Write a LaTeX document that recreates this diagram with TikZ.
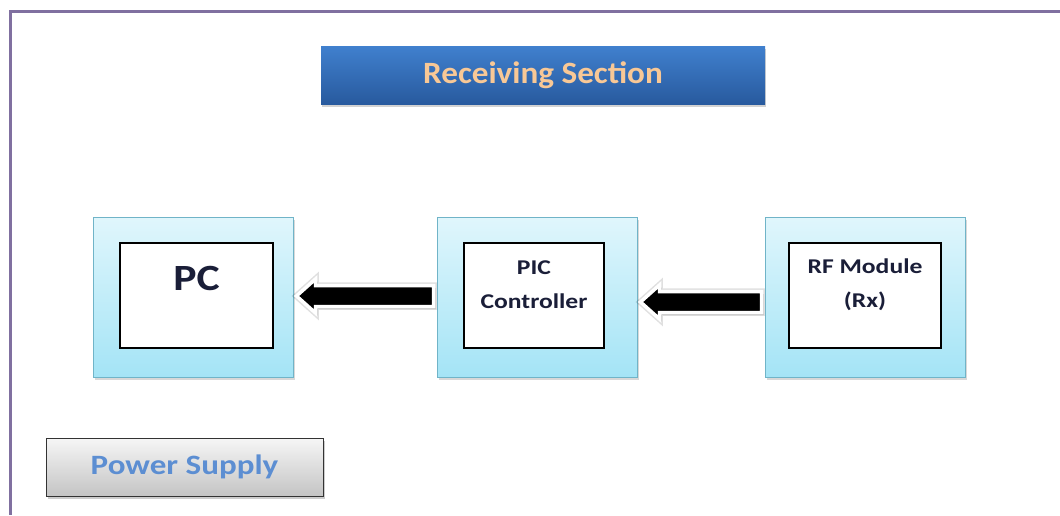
\documentclass[tikz,border=0pt]{standalone}
\usepackage{fontspec}
\setmainfont{Carlito}
\newfontfamily\stretchfont[FakeStretch=1.18]{Carlito}
\newfontfamily\blockfont[FakeStretch=1.22]{Carlito}
\newfontfamily\titlefont[FakeStretch=1.07]{Carlito}
\usetikzlibrary{calc,shadows}
\definecolor{framec}{RGB}{128,112,160}
\definecolor{titletop}{RGB}{64,128,206}
\definecolor{titlebot}{RGB}{40,90,158}
\definecolor{titletext}{RGB}{248,200,150}
\definecolor{cyantop}{RGB}{224,246,252}
\definecolor{cyanbot}{RGB}{164,228,246}
\definecolor{cyanborder}{RGB}{112,180,200}
\definecolor{darktext}{RGB}{26,30,56}
\definecolor{graytop}{RGB}{246,246,246}
\definecolor{graybot}{RGB}{196,196,196}
\definecolor{powertext}{RGB}{92,142,210}
\tikzset{
  frameline/.style={draw=framec, line width=3pt},
  titlebox/.style={rectangle, minimum width=444pt, minimum height=58pt, inner sep=0pt,
    top color=titletop, bottom color=titlebot,
    drop shadow={shadow xshift=1pt, shadow yshift=-3pt, opacity=0.35},
    text=titletext, font=\titlefont\fontsize{31}{33}\selectfont\bfseries},
  outerbox/.style={rectangle, minimum width=200pt, minimum height=160pt, inner sep=0pt,
    top color=cyantop, bottom color=cyanbot, draw=cyanborder, line width=1pt,
    drop shadow={shadow xshift=2pt, shadow yshift=-3pt, opacity=0.3}},
  innerbox/.style={rectangle, minimum height=105pt, inner sep=0pt, fill=white, draw=black, line width=1.2pt},
  blocktext/.style={text=darktext, align=center, inner sep=0pt,
    font=\blockfont\fontsize{21}{34}\selectfont\bfseries},
  bigtext/.style={text=darktext, inner sep=0pt, font=\stretchfont\fontsize{37}{40}\selectfont\bfseries},
  powerbox/.style={rectangle, minimum width=277pt, minimum height=58pt, inner sep=0pt,
    top color=graytop, bottom color=graybot, draw=black!80, line width=1pt,
    drop shadow={shadow xshift=2pt, shadow yshift=-3pt, opacity=0.4},
    text=powertext, font=\stretchfont\fontsize{28}{30}\selectfont\bfseries},
  arrowhalo/.style={draw=black, draw opacity=0.12, line width=6.5pt, line join=miter},
  blockarrow/.style={fill=black, draw=white, line width=3.5pt, line join=miter,
    drop shadow={shadow xshift=2pt, shadow yshift=-2.5pt, opacity=0.45}}
}
% #1 tip node, #2 tail node, #3 vertical offset, #4 style
\newcommand\arrowpath[4]{%
  \draw[#4]
    ($(#1.east)+(3,#3)$) --
    ($(#1.east)+(22,#3-17)$) --
    ($(#1.east)+(22,#3-10.5)$) --
    ($(#2.west)+(-3,#3-10.5)$) --
    ($(#2.west)+(-3,#3+10.5)$) --
    ($(#1.east)+(22,#3+10.5)$) --
    ($(#1.east)+(22,#3+17)$) -- cycle;}
\newcommand\blockarrow[3]{\arrowpath{#1}{#2}{#3}{arrowhalo}\arrowpath{#1}{#2}{#3}{blockarrow}}
\begin{document}
\begin{tikzpicture}[x=1pt,y=-1pt]
\useasboundingbox[fill=white] (0,0) rectangle (1060,515);
\draw[frameline] (1060,11) -- (10,11) -- (10,515);

\node[titlebox] (title) at (543,75) {Receiving Section};

\node[outerbox] (pcout) at (193,297) {};
\node[outerbox] (picout) at (537,297) {};
\node[outerbox] (rfout) at (865,297) {};

\node[innerbox, minimum width=153pt] (pcin) at (196.5,295.5) {};
\node[innerbox, minimum width=140pt] (picin) at (534,295.5) {};
\node[innerbox, minimum width=152pt] (rfin) at (865,295.5) {};

\node[bigtext] (pctext) at ($(pcin.north)+(0,36)$) {PC};
\node[blocktext] (pictext) at ($(picin.north)+(0,42)$) {PIC\\Controller};
\node[blocktext] (rftext) at ($(rfin.north)+(0,42)$) {RF Module\\(Rx)};

\blockarrow{pcout}{picout}{-1}
\blockarrow{picout}{rfout}{5}

\node[powerbox] (power) at (184.5,467) {Power Supply};
\end{tikzpicture}
\end{document}
